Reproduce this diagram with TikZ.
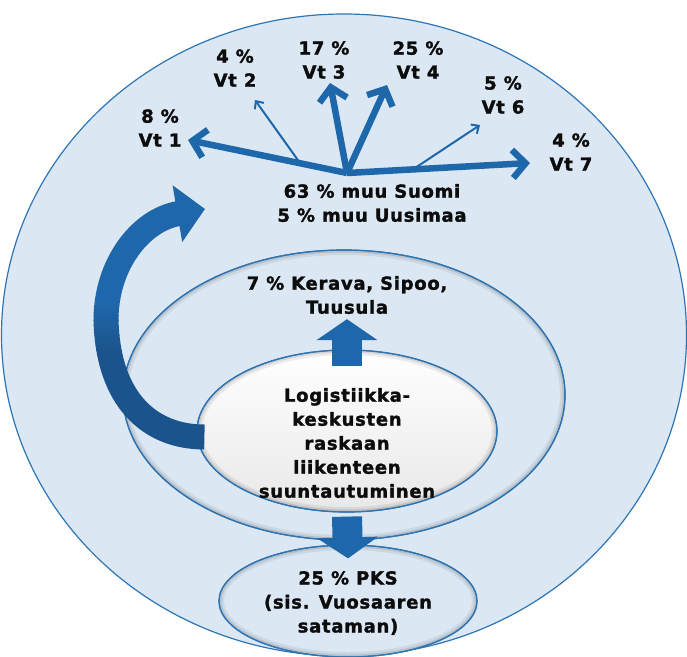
\documentclass[tikz,border=0pt]{standalone}
\usepackage{fontspec}
\setmainfont{DejaVu Sans}[LetterSpace=4, BoldFeatures={FakeBold=1.6}]
\usetikzlibrary{shapes.geometric, arrows.meta}
\definecolor{skyfill}{RGB}{219,232,244}
\definecolor{rimblue}{RGB}{46,117,182}
\definecolor{arrowblue}{RGB}{31,103,171}
\definecolor{arrowdark}{RGB}{27,84,140}
\definecolor{textdark}{RGB}{12,12,12}
% soft shadow along the inside of an elliptic zone
\newcommand\innershade[3]{%
  \begin{scope}
    \clip (#1.center) ellipse [x radius=#2, y radius=#3];
    \draw[black, opacity=.07, line width=10pt] (#1.center) ellipse [x radius=#2, y radius=#3];
    \draw[black, opacity=.10, line width=5pt] (#1.center) ellipse [x radius=#2, y radius=#3];
  \end{scope}
  \draw[rimblue, line width=1.2pt] (#1.center) ellipse [x radius=#2, y radius=#3];}

\begin{document}
\begin{tikzpicture}[
    x=1pt, y=-1pt,
    zone/.style={ellipse, draw=rimblue, line width=1.2pt, fill=skyfill, inner sep=0pt},
    lbl/.style={align=center, inner sep=0pt, text=textdark, font=\bfseries\fontsize{18}{24}\selectfont},
    route/.style={arrowblue, line width=6.5pt, -{Straight Barb[length=13pt, width=28pt]}},
    minor/.style={arrowblue, line width=2pt, -{Straight Barb[length=6pt, width=11pt]}},
    block/.style={arrowblue, line width=30pt, -{Triangle[length=21pt, width=60pt]}},
    swoop/.style={line width=25pt, -{Triangle[length=28pt, width=56pt]}},
]
\useasboundingbox[fill=white] (0,0) rectangle (687,656);

% Zones
\node[zone, minimum width=685pt, minimum height=642pt] (outer) at (344,335) {};
\node[zone, minimum width=442pt, minimum height=290pt] (region) at (344,395) {};
\innershade{region}{221}{145}
\node[zone, top color=white, bottom color=black!9, minimum width=300pt, minimum height=162pt] (logi) at (347,431) {};
\innershade{logi}{150}{81}
\node[zone, minimum width=258pt, minimum height=112pt] (pks) at (348,601) {};
\innershade{pks}{129}{56}

% Texts
\node[lbl] (pkstext) at (348,603) {25 \% PKS\\(sis. Vuosaaren\\sataman)};
\node[lbl] (logitext) at (347,443) {Logistiikka-\\keskusten\\raskaan\\liikenteen\\suuntautuminen};
\node[lbl] (kerava) at (347,295) {7 \% Kerava, Sipoo,\\Tuusula};
\node[lbl] (suomi) at (372,203) {63 \% muu Suomi\\5 \% muu Uusimaa};

\node[lbl] (vt1) at (160,128) {8 \%\\Vt 1};
\node[lbl] (vt2) at (235,68) {4 \%\\Vt 2};
\node[lbl] (vt3) at (324,60) {17 \%\\Vt 3};
\node[lbl] (vt4) at (418,60) {25 \%\\Vt 4};
\node[lbl] (vt6) at (503,95) {5 \%\\Vt 6};
\node[lbl] (vt7) at (571,152) {4 \%\\Vt 7};

% Route arrows
\coordinate (hub) at (347,173);
\coordinate (tip1) at (188,140);
\coordinate (tip2) at (255,100);
\coordinate (tip3) at (330,83);
\coordinate (tip4) at (387,85);
\coordinate (tip6) at (480,125);
\coordinate (tip7) at (530,163);
\coordinate (fork2) at (300,163);
\coordinate (fork6) at (415,168);

\draw[route] (hub) -- (tip1);
\draw[route] (hub) -- (tip3);
\draw[route] (hub) -- (tip4);
\draw[route] (hub) -- (tip7);
\draw[minor] (fork2) -- (tip2);
\draw[minor] (fork6) -- (tip6);

% Block arrows
\draw[block] ([yshift=-17pt]logi.north) -- ([yshift=-5pt]kerava.south);
\draw[block] ([yshift=-4pt]logi.south) -- ([yshift=-14pt]pks.north);

% Swoop out of the region
\newcommand\swooppath{([shift={(8,6)}]logi.west) .. controls (150,437) and (108,400) .. (106,320)
    .. controls (106,265) and (140,220) .. (205,209)}
\begin{scope}
  \clip (0,0) rectangle (687,300);
  \draw[swoop, arrowblue] \swooppath;
\end{scope}
\foreach \k in {0,...,9}{
  \pgfmathsetmacro\mixpct{100-10*\k}
  \begin{scope}
    \clip (0,300+5*\k) rectangle (687,305.5+5*\k);
    \draw[swoop, arrowblue!\mixpct!arrowdark] \swooppath;
  \end{scope}
}
\begin{scope}
  \clip (0,350) rectangle (687,656);
  \draw[swoop, arrowdark] \swooppath;
\end{scope}

\end{tikzpicture}
\end{document}
